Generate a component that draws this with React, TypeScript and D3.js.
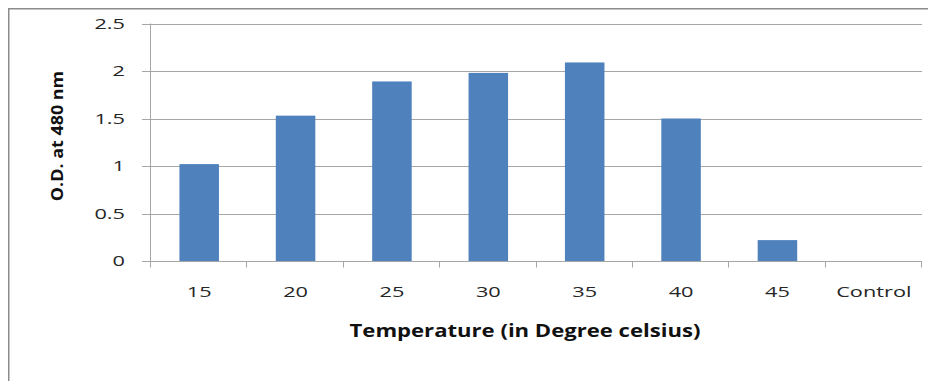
import * as d3 from "d3";
import { useEffect, useRef } from "react";

const categories = ["15", "20", "25", "30", "35", "40", "45", "Control"];
const odValues = [1.02, 1.53, 1.89, 1.98, 2.09, 1.5, 0.22, 0];
const yTicks = [0, 0.5, 1, 1.5, 2, 2.5];

export default function App() {
  const ref = useRef<HTMLDivElement>(null);

  useEffect(() => {
    const width = 936;
    const height = 389;
    const margin = { top: 23.5, right: 14, bottom: 128, left: 151 };
    const font = "'Open Sans', 'Liberation Sans', sans-serif";
    const sx = 1.45; // labels in the source are horizontally stretched

    d3.select(ref.current).select("svg").remove();

    const svg = d3
      .select(ref.current)
      .append("svg")
      .attr("width", width)
      .attr("height", height)
      .style("display", "block");

    // outer chart frame (only left + top visible in the crop)
    svg
      .append("path")
      .attr("d", `M8.5,${height + 5} V8.5 H931`)
      .attr("fill", "none")
      .attr("stroke", "#8c8c8c")
      .attr("stroke-width", 2);

    const x = d3
      .scaleBand()
      .domain(categories)
      .range([margin.left, width - margin.right])
      .padding(0);

    const y = d3
      .scaleLinear()
      .domain([0, 2.5])
      .range([height - margin.bottom, margin.top]);

    // gridlines
    svg
      .append("g")
      .selectAll("line")
      .data(yTicks)
      .enter()
      .append("line")
      .attr("x1", margin.left - 9)
      .attr("x2", width - margin.right)
      .attr("y1", (d) => Math.round(y(d)) + 0.5)
      .attr("y2", (d) => Math.round(y(d)) + 0.5)
      .attr("stroke", "#a6a6a6")
      .attr("stroke-width", 1);

    // y tick labels
    svg
      .append("g")
      .selectAll("text")
      .data(yTicks)
      .enter()
      .append("text")
      .attr("transform", (d) => `translate(125,${y(d)}) scale(${sx},1)`)
      .attr("dy", "0.35em")
      .attr("text-anchor", "end")
      .attr("font-family", font)
      .attr("font-size", 15)
      .attr("fill", "#262626")
      .text((d) => String(d));

    // bars
    const barW = x.bandwidth() * 0.41;
    svg
      .append("g")
      .selectAll("rect")
      .data(odValues)
      .enter()
      .append("rect")
      .attr("x", (d, i) => x(categories[i])! + (x.bandwidth() - barW) / 2)
      .attr("y", (d) => y(d))
      .attr("width", barW)
      .attr("height", (d) => y(0) - y(d))
      .attr("fill", "#4f81bd");

    // y axis line
    const y0 = Math.round(y(0)) + 0.5;
    svg
      .append("line")
      .attr("x1", margin.left - 0.5)
      .attr("x2", margin.left - 0.5)
      .attr("y1", margin.top)
      .attr("y2", y0)
      .attr("stroke", "#a6a6a6");

    // x axis ticks between categories
    const bounds = categories.map((c) => x(c)!).concat([width - margin.right]);
    svg
      .append("g")
      .selectAll("line")
      .data(bounds)
      .enter()
      .append("line")
      .attr("x1", (d) => Math.round(d) - 0.5)
      .attr("x2", (d) => Math.round(d) - 0.5)
      .attr("y1", y0)
      .attr("y2", y0 + 6)
      .attr("stroke", "#a6a6a6");

    // x tick labels
    svg
      .append("g")
      .selectAll("text")
      .data(categories)
      .enter()
      .append("text")
      .attr(
        "transform",
        (d) => `translate(${x(d)! + x.bandwidth() / 2},297) scale(${sx},1)`
      )
      .attr("text-anchor", "middle")
      .attr("font-family", font)
      .attr("font-size", 15)
      .attr("fill", "#262626")
      .text((d) => d);

    // axis titles
    svg
      .append("text")
      .attr("transform", "translate(525,337) scale(1.3,1)")
      .attr("text-anchor", "middle")
      .attr("font-family", font)
      .attr("font-size", 17)
      .attr("font-weight", "bold")
      .attr("fill", "#111")
      .text("Temperature (in Degree celsius)");

    svg
      .append("text")
      .attr("transform", "translate(63,136) rotate(-90) scale(1.12,1)")
      .attr("text-anchor", "middle")
      .attr("font-family", font)
      .attr("font-size", 16)
      .attr("font-weight", "bold")
      .attr("fill", "#111")
      .text("O.D. at 480 nm");
  }, []);

  return <div ref={ref} style={{ margin: -8 }}></div>;
}
